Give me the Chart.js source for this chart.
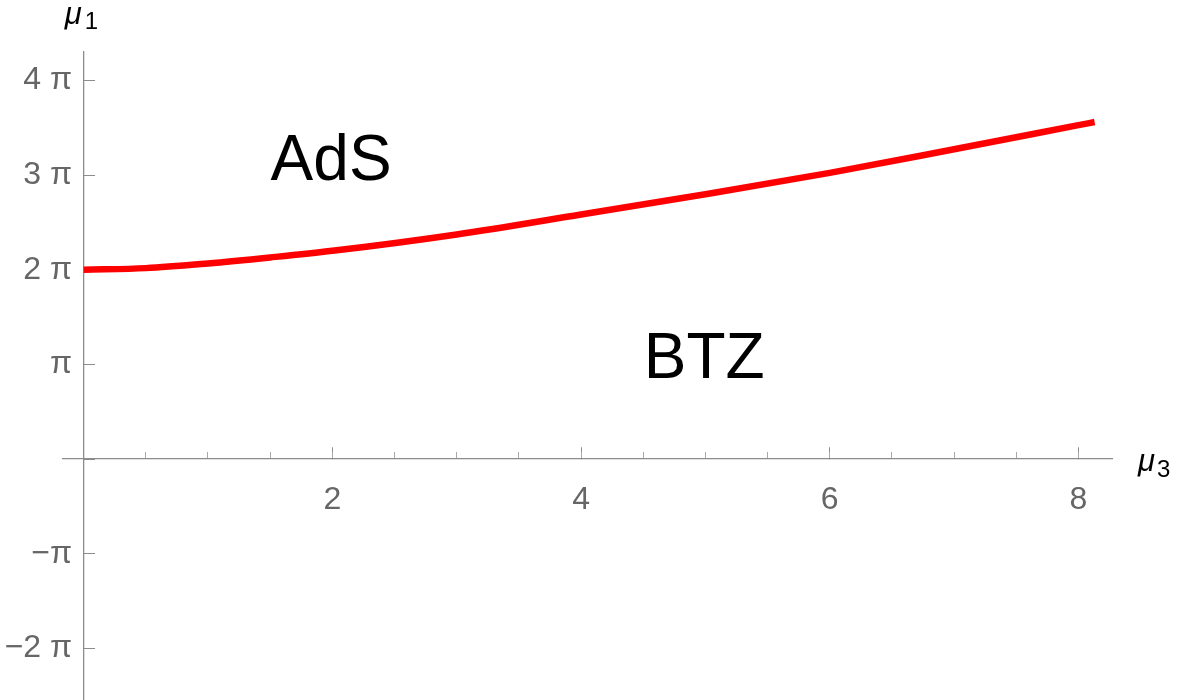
<!DOCTYPE html>
<html>
<head>
<meta charset="utf-8">
<script src="https://cdn.jsdelivr.net/npm/chart.js@4/dist/chart.umd.min.js"></script>
<style>
  html, body { margin: 0; padding: 0; background: #fff; }
  #wrap { width: 1183px; height: 700px; position: relative; }
</style>
</head>
<body>
<div id="wrap"><canvas id="phaseChart"></canvas></div>
<script>
// mu3 values along the boundary curve and the mu1 values (in units of pi)
const muThree = [0, 0.5, 1, 1.5, 2, 3, 4, 5, 6, 7, 8, 8.13];
const muOnePi = [2.0, 2.017, 2.067, 2.13, 2.2, 2.373, 2.584, 2.798, 3.023, 3.273, 3.527, 3.56];

// region labels: [text, mu3, mu1/pi]
const regionLabels = [
  ["AdS", 1.99, 3.13],
  ["BTZ", 4.99, 1.045],
];

const xRange = [-0.166, 8.27];
const yRange = [-2.545, 4.30];

const tickFont = { family: "Liberation Sans, Arial, sans-serif", size: 32 };
const tickColor = "#666666";
const axisColor = "#8c8c8c";

// labels of the y axis sit right against the axis line, so pad them with a space
function piLabel(v) {
  if (v === 0) return "";
  let s;
  if (v === 1) s = "π";
  else if (v === -1) s = "−π";
  else s = (v < 0 ? "−" + Math.abs(v) : v) + " π";
  return s + " \u200A";
}

// positioned axes should not push the plot area inwards
function noPadding(scale) {
  scale.paddingLeft = 0;
  scale.paddingRight = 0;
  scale.paddingTop = 0;
  scale.paddingBottom = 0;
}

const textPlugin = {
  id: "texts",
  afterDraw(chart) {
    const ctx = chart.ctx;
    const xs = chart.scales.x, ys = chart.scales.y;
    ctx.save();
    ctx.fillStyle = "#000";
    ctx.textAlign = "center";
    ctx.textBaseline = "middle";
    ctx.font = "64px Liberation Sans, Arial, sans-serif";
    regionLabels.forEach(([t, x, y]) => {
      ctx.fillText(t, xs.getPixelForValue(x), ys.getPixelForValue(y));
    });

    // axis names
    ctx.textAlign = "left";
    ctx.textBaseline = "alphabetic";
    const x0 = xs.getPixelForValue(0);
    ctx.font = "italic 31px Liberation Sans, Arial, sans-serif";
    ctx.fillText("μ", x0 - 19, 24);
    ctx.font = "24px Liberation Sans, Arial, sans-serif";
    ctx.fillText("1", x0 + 1, 29);

    const y0 = ys.getPixelForValue(0);
    ctx.font = "italic 31px Liberation Sans, Arial, sans-serif";
    ctx.fillText("μ", 1138, y0 + 12);
    ctx.font = "24px Liberation Sans, Arial, sans-serif";
    ctx.fillText("3", 1157, y0 + 18);
    ctx.restore();
  },
};

const points = muThree.map((m, i) => ({ x: m, y: muOnePi[i] }));

new Chart(document.getElementById("phaseChart"), {
  type: "scatter",
  data: {
    datasets: [
      {
        data: points,
        showLine: true,
        borderColor: "#ff0000",
        borderWidth: 6.5,
        pointRadius: 0,
        cubicInterpolationMode: "monotone",
        xAxisID: "x",
        yAxisID: "y",
      },
    ],
  },
  options: {
    responsive: true,
    maintainAspectRatio: false,
    animation: false,
    layout: { padding: { left: 63, right: 71, top: 52, bottom: 0 } },
    plugins: { legend: { display: false }, tooltip: { enabled: false } },
    scales: {
      x: {
        type: "linear",
        position: { y: 0 },
        min: xRange[0],
        max: xRange[1],
        afterFit: noPadding,
        border: { color: axisColor, width: 1.3 },
        grid: { drawOnChartArea: false, drawTicks: true, tickLength: -12, color: axisColor },
        ticks: {
          stepSize: 2,
          includeBounds: false,
          padding: 34,
          color: tickColor,
          font: tickFont,
          maxRotation: 0,
          callback: (v) => (v === 0 ? "" : v),
        },
      },
      xm: {
        type: "linear",
        position: { y: 0 },
        min: xRange[0],
        max: xRange[1],
        afterFit: noPadding,
        border: { display: false },
        grid: { drawOnChartArea: false, drawTicks: true, tickLength: -7, color: "#a8a8a8" },
        ticks: { stepSize: 0.5, includeBounds: false, callback: () => "" },
      },
      y: {
        type: "linear",
        position: { x: 0 },
        min: yRange[0],
        max: yRange[1],
        afterFit: noPadding,
        border: { color: axisColor, width: 1.3 },
        grid: { drawOnChartArea: false, drawTicks: true, tickLength: -12, color: axisColor },
        ticks: {
          stepSize: 1,
          includeBounds: false,
          color: tickColor,
          font: tickFont,
          callback: piLabel,
        },
      },
    },
  },
  plugins: [textPlugin],
});
</script>
</body>
</html>
